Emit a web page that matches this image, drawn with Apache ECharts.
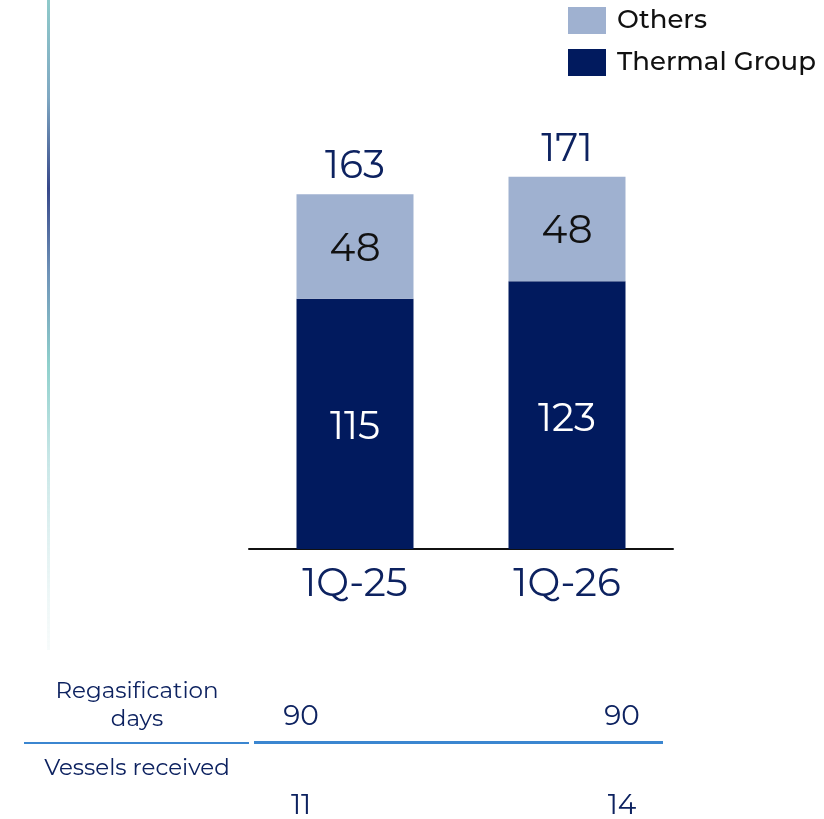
<!DOCTYPE html>
<html>
<head>
<meta charset="utf-8">
<script src="https://cdn.jsdelivr.net/npm/echarts@6/dist/echarts.min.js"></script>
<style>
html,body{margin:0;padding:0;background:#fff;}
#main{width:824px;height:819px;}
</style>
</head>
<body>
<div id="main"></div>
<script>
var categories = ['1Q-25', '1Q-26'];
var thermalGroup = [115, 123];
var others = [48, 48];
var regasDays = [90, 90];
var vesselsReceived = [11, 14];

var totals = thermalGroup.map(function (v, i) { return v + others[i]; });

var navy = '#011a5e';
var light = '#9fb1d0';
var textNavy = '#0d2260';
var font = 'Montserrat, "Noto Sans", sans-serif';

var chart = echarts.init(document.getElementById('main'));

chart.setOption({
    animation: false,
    textStyle: { fontFamily: font },
    legend: {
        data: ['Others', 'Thermal Group'],
        orient: 'vertical',
        left: 563,
        top: 2,
        icon: 'rect',
        itemWidth: 38,
        itemHeight: 27,
        itemGap: 15,
        textStyle: { fontSize: 26, fontWeight: 500, color: '#111', fontFamily: font, padding: [0, 0, 0, 6] }
    },
    grid: { left: 249, right: 151, top: 131, bottom: 270 },
    xAxis: {
        type: 'category',
        data: categories,
        axisTick: { show: false },
        axisLine: { lineStyle: { color: '#111', width: 2 } },
        axisLabel: { fontSize: 39, color: textNavy, margin: 16, fontFamily: font }
    },
    yAxis: {
        type: 'value',
        min: 0,
        max: 192,
        show: false,
        splitLine: { show: false }
    },
    series: [
        {
            name: 'Thermal Group',
            type: 'bar',
            stack: 'a',
            barWidth: 117,
            data: thermalGroup,
            itemStyle: { color: navy },
            label: { show: true, position: 'inside', offset: [0, 4], color: '#fff', fontSize: 39, fontFamily: font }
        },
        {
            name: 'Others',
            type: 'bar',
            stack: 'a',
            barWidth: 117,
            data: others,
            itemStyle: { color: light },
            label: { show: true, position: 'inside', offset: [0, 3], color: '#111', fontSize: 39, fontFamily: font }
        },
        {
            name: 'Total',
            type: 'bar',
            barWidth: 117,
            barGap: '-100%',
            z: 0,
            data: totals,
            itemStyle: { color: 'rgba(0,0,0,0)' },
            label: { show: true, position: 'top', distance: 8, color: textNavy, fontSize: 39, fontFamily: font }
        }
    ],
    graphic: [
        {
            type: 'rect',
            shape: { x: 47, y: 0, width: 3, height: 650 },
            style: {
                fill: new echarts.graphic.LinearGradient(0, 0, 0, 1, [
                    { offset: 0, color: '#8fcaca' },
                    { offset: 0.15, color: '#7fa8c2' },
                    { offset: 0.29, color: '#37488a' },
                    { offset: 0.42, color: '#6f93b8' },
                    { offset: 0.56, color: '#8fd0cc' },
                    { offset: 0.7, color: '#c6e6e6' },
                    { offset: 1, color: 'rgba(235,245,245,0.4)' }
                ])
            }
        },
        {
            type: 'text', x: 137, y: 705,
            style: { text: 'Regasification\ndays', fill: textNavy, fontSize: 23, lineHeight: 28, align: 'center', verticalAlign: 'middle', fontFamily: font }
        },
        {
            type: 'text', x: 301, y: 717,
            style: { text: String(regasDays[0]), fill: textNavy, fontSize: 28, align: 'center', verticalAlign: 'middle', fontFamily: font }
        },
        {
            type: 'text', x: 622, y: 717,
            style: { text: String(regasDays[1]), fill: textNavy, fontSize: 28, align: 'center', verticalAlign: 'middle', fontFamily: font }
        },
        {
            type: 'rect', shape: { x: 24, y: 742, width: 225, height: 2 },
            style: { fill: '#3b86d0' }
        },
        {
            type: 'rect', shape: { x: 254, y: 741, width: 409, height: 3 },
            style: { fill: '#3b86d0' }
        },
        {
            type: 'text', x: 137, y: 768,
            style: { text: 'Vessels received', fill: textNavy, fontSize: 23, align: 'center', verticalAlign: 'middle', fontFamily: font }
        },
        {
            type: 'text', x: 301, y: 806,
            style: { text: String(vesselsReceived[0]), fill: textNavy, fontSize: 28, align: 'center', verticalAlign: 'middle', fontFamily: font }
        },
        {
            type: 'text', x: 622, y: 806,
            style: { text: String(vesselsReceived[1]), fill: textNavy, fontSize: 28, align: 'center', verticalAlign: 'middle', fontFamily: font }
        }
    ]
});
</script>
</body>
</html>
